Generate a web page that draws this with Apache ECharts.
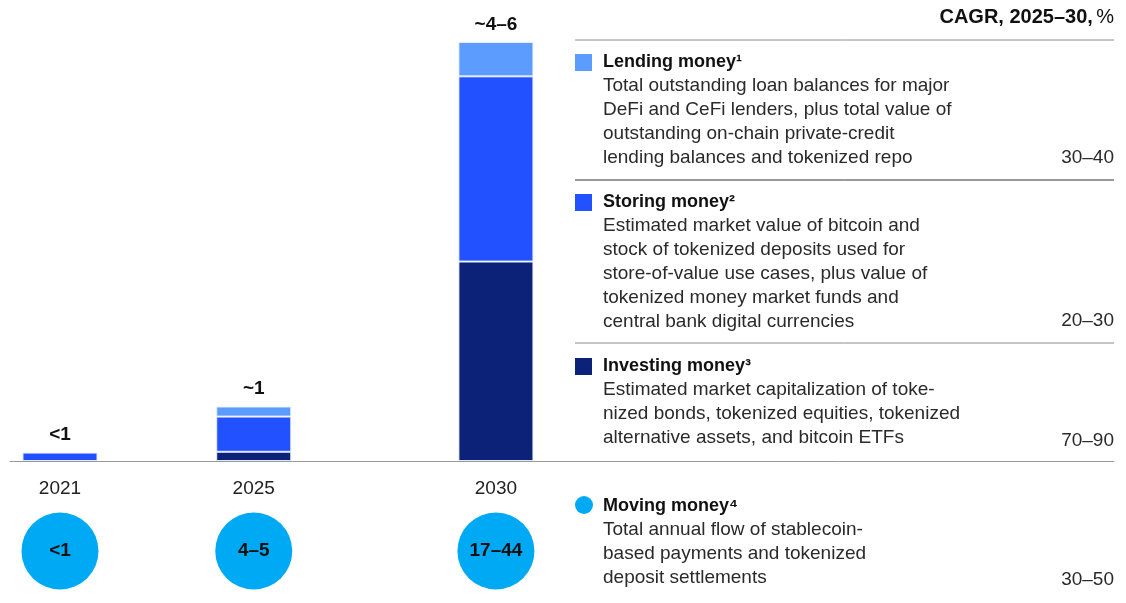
<!DOCTYPE html>
<html>
<head>
<meta charset="utf-8">
<script src="https://cdn.jsdelivr.net/npm/echarts@6/dist/echarts.min.js"></script>
<style>
  html, body { margin: 0; padding: 0; background: #fff; }
  #chart { width: 1126px; height: 603px; }
</style>
</head>
<body>
<div id="chart"></div>
<script>
  // data, $ trillion (bar heights)
  const years = [2021, 2025, 2030]
  const investing = ['-', 0.11, 2.38]
  const storing = [0.1, 0.42, 2.21]
  const lending = ['-', 0.12, 0.41]
  const totalLabels = ['<1', '~1', '~4–6']
  const movingLabels = ['<1', '4–5', '17–44']

  const blockTitles = ['Lending money¹', 'Storing money²', 'Investing money³', 'Moving money⁴']
  const blockTexts = [
    ['Total outstanding loan balances for major', 'DeFi and CeFi lenders, plus total value of', 'outstanding on-chain private-credit', 'lending balances and tokenized repo'],
    ['Estimated market value of bitcoin and', 'stock of tokenized deposits used for', 'store-of-value use cases, plus value of', 'tokenized money market funds and', 'central bank digital currencies'],
    ['Estimated market capitalization of toke-', 'nized bonds, tokenized equities, tokenized', 'alternative assets, and bitcoin ETFs'],
    ['Total annual flow of stablecoin-', 'based payments and tokenized', 'deposit settlements']
  ]
  const cagr = ['30–40', '20–30', '70–90', '30–50']

  const FONT = '"Liberation Sans", Arial, sans-serif'
  const colors = { lending: '#5c9cff', storing: '#2251ff', investing: '#0b2278', moving: '#00a9f4' }
  const blockColors = [colors.lending, colors.storing, colors.investing, colors.moving]

  const num = v => (v === '-' ? 0 : v)
  const totals = years.map((y, i) => num(investing[i]) + num(storing[i]) + num(lending[i]))

  const xMin = 2019.968, xMax = 2042.76

  // value first, year second, so the stack runs on the value dimension
  function barSeries(name, arr, color) {
    return {
      name: name,
      type: 'bar',
      stack: 'total',
      barWidth: 75,
      xAxisIndex: 0,
      yAxisIndex: 0,
      encode: { x: 1, y: 0 },
      itemStyle: { color: color, borderColor: 'rgba(235,240,255,0.9)', borderWidth: 1 },
      data: years.map((y, i) => [arr[i], y])
    }
  }

  // right-hand panel
  const graphic = []
  graphic.push({
    type: 'text', right: 12, top: 7,
    style: {
      text: '{b|CAGR, 2025–30,} {n|%}',
      rich: {
        b: { font: 'bold 20px ' + FONT, fill: '#111' },
        n: { font: '20px ' + FONT, fill: '#111' }
      }
    }
  })
  const rules = [[40, '#8c8c8c'], [180, '#333'], [343, '#8c8c8c']]
  rules.forEach(r => {
    graphic.push({ type: 'line', shape: { x1: 575, y1: r[0], x2: 1114, y2: r[0] }, style: { stroke: r[1], lineWidth: 1 } })
  })
  const titleY = [62, 202, 366, 506]
  const valueY = [158, 321, 441, 580]
  blockTitles.forEach((t, i) => {
    if (i === 3) {
      graphic.push({ type: 'circle', shape: { cx: 584, cy: titleY[i] - 1, r: 9 }, style: { fill: blockColors[i] } })
    } else {
      graphic.push({ type: 'rect', shape: { x: 575, y: titleY[i] - 8, width: 17, height: 17 }, style: { fill: blockColors[i] } })
    }
    graphic.push({
      type: 'text', x: 603, y: titleY[i],
      style: { text: t, font: 'bold 18px ' + FONT, fill: '#111', textVerticalAlign: 'middle' }
    })
    graphic.push({
      type: 'text', x: 603, y: titleY[i] + 12,
      style: { text: blockTexts[i].join('\n'), font: '19px ' + FONT, fill: '#2a2a2a', lineHeight: 24, textVerticalAlign: 'top' }
    })
    graphic.push({
      type: 'text', x: 1114, y: valueY[i],
      style: { text: cagr[i], font: '19px ' + FONT, fill: '#2a2a2a', textAlign: 'right', textVerticalAlign: 'middle' }
    })
  })

  const chart = echarts.init(document.getElementById('chart'))
  chart.setOption({
    animation: false,
    textStyle: { fontFamily: FONT },
    grid: [
      { left: 10, right: 12, top: 42, bottom: 142 },
      { left: 10, right: 12, top: 513, height: 76 }
    ],
    xAxis: [
      {
        type: 'value', gridIndex: 0, min: xMin, max: xMax,
        splitLine: { show: false },
        axisLine: { show: true, lineStyle: { color: '#9a9a9a', width: 1 } },
        axisTick: { show: false },
        axisLabel: {
          customValues: years,
          formatter: v => String(v),
          color: '#222', fontSize: 19, margin: 18, fontFamily: FONT
        }
      },
      { type: 'value', gridIndex: 1, min: xMin, max: xMax, show: false }
    ],
    yAxis: [
      { type: 'value', gridIndex: 0, min: 0, max: 5, show: false, splitLine: { show: false } },
      { type: 'value', gridIndex: 1, min: 0, max: 1, show: false, splitLine: { show: false } }
    ],
    series: [
      barSeries('Investing money', investing, colors.investing),
      barSeries('Storing money', storing, colors.storing),
      barSeries('Lending money', lending, colors.lending),
      {
        type: 'scatter', xAxisIndex: 0, yAxisIndex: 0,
        symbolSize: 0,
        itemStyle: { opacity: 1 },
        data: years.map((y, i) => [y, totals[i]]),
        label: {
          show: true, position: 'top', distance: 8,
          formatter: p => totalLabels[p.dataIndex],
          fontWeight: 'bold', fontSize: 19, color: '#111', fontFamily: FONT
        }
      },
      {
        type: 'scatter', xAxisIndex: 1, yAxisIndex: 1,
        symbolSize: 77,
        itemStyle: { color: colors.moving, opacity: 1 },
        data: years.map(y => [y, 0.5]),
        label: {
          show: true, position: 'inside',
          formatter: p => movingLabels[p.dataIndex],
          fontWeight: 'bold', fontSize: 19, color: '#111', fontFamily: FONT
        }
      }
    ],
    graphic: graphic
  })
</script>
</body>
</html>
